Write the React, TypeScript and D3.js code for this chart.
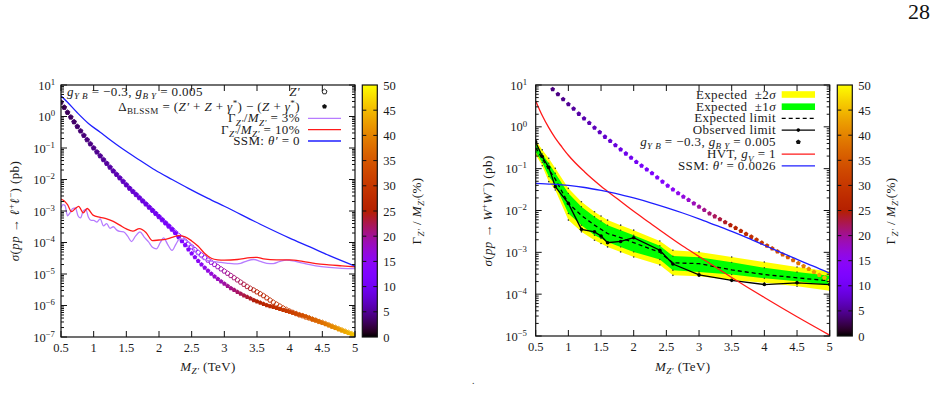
import React from "react";
import * as d3 from "d3";

const SERIF = "'Liberation Serif','Times New Roman',serif";
const TXT = "#1a1a1a";

// ---------- ticks ----------
const massTickValues = [0.5, 1, 1.5, 2, 2.5, 3, 3.5, 4, 4.5, 5];
const massTickLabels = ["0.5", "1", "1.5", "2", "2.5", "3", "3.5", "4", "4.5", "5"];
const leftDecadeExps = [1, 0, -1, -2, -3, -4, -5, -6, -7];
const rightDecadeExps = [1, 0, -1, -2, -3, -4, -5];
const widthTickValues = [0, 5, 10, 15, 20, 25, 30, 35, 40, 45, 50];

// ---------- left panel: pp -> l+l- (values are log10 of sigma in pb) ----------
const leftMass = [
  0.5, 0.55, 0.6, 0.65, 0.7, 0.75, 0.8, 0.85, 0.9, 0.95,
  1.0, 1.05, 1.1, 1.15, 1.2, 1.25, 1.3, 1.35, 1.4, 1.45,
  1.5, 1.55, 1.6, 1.65, 1.7, 1.75, 1.8, 1.85, 1.9, 1.95,
  2.0, 2.05, 2.1, 2.15, 2.2, 2.25, 2.3, 2.35, 2.4, 2.45,
  2.5, 2.55, 2.6, 2.65, 2.7, 2.75, 2.8, 2.85, 2.9, 2.95,
  3.0, 3.05, 3.1, 3.15, 3.2, 3.25, 3.3, 3.35, 3.4, 3.45,
  3.5, 3.55, 3.6, 3.65, 3.7, 3.75, 3.8, 3.85, 3.9, 3.95,
  4.0, 4.05, 4.1, 4.15, 4.2, 4.25, 4.3, 4.35, 4.4, 4.45,
  4.5, 4.55, 4.6, 4.65, 4.7, 4.75, 4.8, 4.85, 4.9, 4.95,
  5.0,
];
const zpLog10 = [
  0.45, 0.29, 0.13, -0.02, -0.17, -0.32, -0.46, -0.6, -0.74, -0.87,
  -1.0, -1.13, -1.25, -1.37, -1.49, -1.61, -1.73, -1.84, -1.95, -2.06,
  -2.17, -2.28, -2.38, -2.48, -2.58, -2.68, -2.78, -2.88, -2.98, -3.08,
  -3.18, -3.28, -3.38, -3.48, -3.58, -3.68, -3.78, -3.87, -3.96, -4.05,
  -4.14, -4.23, -4.32, -4.4, -4.48, -4.56, -4.63, -4.7, -4.77, -4.84,
  -4.91, -4.98, -5.05, -5.12, -5.19, -5.26, -5.33, -5.4, -5.46, -5.51,
  -5.57, -5.63, -5.69, -5.76, -5.83, -5.9, -5.96, -6.02, -6.08, -6.13,
  -6.18, -6.22, -6.26, -6.3, -6.33, -6.37, -6.4, -6.44, -6.47, -6.51,
  -6.54, -6.58, -6.62, -6.66, -6.7, -6.74, -6.78, -6.82, -6.86, -6.9,
  -6.94,
];
const deltaLog10 = [
  0.45, 0.29, 0.13, -0.02, -0.17, -0.32, -0.46, -0.6, -0.74, -0.87,
  -1.0, -1.13, -1.25, -1.37, -1.49, -1.61, -1.73, -1.84, -1.95, -2.06,
  -2.17, -2.28, -2.38, -2.48, -2.58, -2.68, -2.78, -2.88, -2.98, -3.08,
  -3.18, -3.28, -3.38, -3.48, -3.58, -3.7, -3.83, -3.96, -4.09, -4.22,
  -4.35, -4.47, -4.59, -4.7, -4.8, -4.9, -4.99, -5.08, -5.16, -5.24,
  -5.31, -5.38, -5.45, -5.51, -5.57, -5.63, -5.68, -5.73, -5.78, -5.83,
  -5.87, -5.91, -5.95, -5.99, -6.02, -6.05, -6.08, -6.11, -6.14, -6.17,
  -6.2, -6.23, -6.26, -6.29, -6.32, -6.35, -6.39, -6.43, -6.47, -6.51,
  -6.55, -6.59, -6.63, -6.67, -6.71, -6.75, -6.79, -6.83, -6.87, -6.91,
  -6.95,
];
const leftWidthPct = [
  2.5, 2.7, 2.9, 3.1, 3.3, 3.5, 3.7, 3.9, 4.1, 4.3,
  4.5, 4.7, 4.9, 5.1, 5.3, 5.6, 5.9, 6.2, 6.5, 6.8,
  7.0, 7.3, 7.6, 7.9, 8.2, 8.5, 8.8, 9.1, 9.4, 9.7,
  10.0, 10.3, 10.6, 11.0, 11.3, 11.7, 12.0, 12.4, 12.7, 13.1,
  13.5, 14.0, 14.6, 15.1, 15.7, 16.3, 16.9, 17.6, 18.2, 18.9,
  19.5, 20.1, 20.6, 21.2, 21.7, 22.3, 22.8, 23.4, 23.9, 24.5,
  25.0, 25.6, 26.2, 26.8, 27.4, 28.0, 28.6, 29.2, 29.8, 30.4,
  31.0, 31.7, 32.4, 33.1, 33.8, 34.5, 35.2, 35.9, 36.6, 37.3,
  38.0, 38.8, 39.6, 40.4, 41.2, 42.0, 42.8, 43.6, 44.4, 45.2,
  46.0,
];
const width3Mass = [
  0.5, 0.53, 0.56, 0.6, 0.64, 0.68, 0.72, 0.76, 0.8, 0.84,
  0.88, 0.92, 0.96, 1.0, 1.05, 1.1, 1.15, 1.2, 1.25, 1.3,
  1.35, 1.4, 1.46, 1.52, 1.58, 1.64, 1.71, 1.77, 1.84, 1.9,
  1.96, 2.02, 2.07, 2.13, 2.2, 2.26, 2.32, 2.42, 2.5, 2.58,
  2.66, 2.73, 2.85, 2.95, 3.05, 3.15, 3.25, 3.35, 3.45, 3.55,
  3.65, 3.75, 3.85, 3.95, 4.05, 4.15, 4.25, 4.4, 4.6, 4.8, 5.0,
];
const width3Log10 = [
  -2.9, -2.8, -2.82, -3.15, -3.05, -2.92, -2.9, -3.15, -3.22, -3.0,
  -2.95, -3.2, -3.3, -3.3, -3.35, -3.25, -3.47, -3.4, -3.55, -3.5,
  -3.6, -3.65, -3.66, -3.8, -3.97, -3.8, -3.66, -3.82, -3.98, -4.15,
  -4.2, -4.0, -3.85, -4.05, -4.25, -4.05, -3.88, -3.93, -4.1, -4.35,
  -4.5, -4.56, -4.61, -4.63, -4.66, -4.68, -4.66, -4.58, -4.54, -4.6,
  -4.66, -4.67, -4.6, -4.56, -4.58, -4.63, -4.68, -4.74, -4.79, -4.82, -4.83,
];
const width10Mass = [
  0.5, 0.55, 0.6, 0.66, 0.72, 0.77, 0.84, 0.9, 0.99,
  1.1, 1.2, 1.3, 1.4, 1.5, 1.6, 1.7, 1.8, 1.9,
  2.0, 2.1, 2.2, 2.3, 2.4, 2.5, 2.6, 2.7, 2.8, 2.9,
  3.0, 3.2, 3.4, 3.5, 3.6, 3.8, 4.0, 4.2, 4.4, 4.6, 4.8, 5.0,
];
const width10Log10 = [
  -2.62, -2.68, -2.8, -3.02, -2.92, -2.85, -3.06, -2.92, -3.13,
  -3.2, -3.25, -3.33, -3.45, -3.57, -3.64, -3.56, -3.68, -3.94,
  -3.92, -3.9, -3.84, -3.78, -3.82, -3.95, -4.12, -4.35, -4.5, -4.55,
  -4.56, -4.54, -4.48, -4.47, -4.52, -4.55, -4.55, -4.6, -4.67, -4.71, -4.74, -4.77,
];
const ssmLeftMass = [0.5, 0.6, 0.75, 0.92, 1.1, 1.25, 1.43, 1.7, 1.94, 2.2, 2.45, 2.75, 3.0, 3.55, 4.0, 4.31, 4.6, 5.0];
const ssmLeftLog10 = [0.66, 0.45, 0.12, -0.22, -0.5, -0.74, -1.01, -1.38, -1.7, -2.0, -2.28, -2.6, -2.85, -3.42, -3.86, -4.14, -4.41, -4.75];

// ---------- right panel: pp -> W+W- ----------
const bandMass = [0.5, 0.6, 0.7, 0.8, 1.0, 1.2, 1.4, 1.5, 1.6, 1.8, 2.0, 2.4, 2.6, 3.0, 3.5, 4.0, 4.5, 5.0];
const yellowLoLog10 = [-0.67, -0.93, -1.31, -1.51, -2.23, -2.51, -2.71, -2.79, -2.87, -2.99, -3.11, -3.3, -3.55, -3.57, -3.66, -3.73, -3.81, -3.92];
const greenLoLog10 = [-0.6, -0.85, -1.19, -1.39, -2.07, -2.35, -2.59, -2.67, -2.75, -2.87, -2.99, -3.17, -3.43, -3.47, -3.53, -3.62, -3.69, -3.78];
const expectedLog10 = [-0.5, -0.76, -1.02, -1.25, -1.83, -2.12, -2.35, -2.45, -2.55, -2.65, -2.77, -3.0, -3.25, -3.27, -3.42, -3.53, -3.61, -3.68];
const greenHiLog10 = [-0.4, -0.65, -0.87, -1.11, -1.59, -1.91, -2.15, -2.25, -2.35, -2.47, -2.59, -2.84, -3.09, -3.12, -3.24, -3.37, -3.47, -3.56];
const yellowHiLog10 = [-0.32, -0.55, -0.75, -0.99, -1.47, -1.79, -2.03, -2.13, -2.23, -2.35, -2.47, -2.73, -2.95, -2.99, -3.11, -3.23, -3.35, -3.46];
const observedLog10 = [-0.36, -0.71, -0.97, -1.43, -1.83, -2.45, -2.51, -2.61, -2.77, -2.74, -2.65, -2.95, -3.28, -3.54, -3.67, -3.77, -3.73, -3.77];

const rightDotMass = [
  0.76, 0.84, 0.92, 1.0, 1.08, 1.16, 1.24, 1.32, 1.4, 1.48,
  1.56, 1.64, 1.72, 1.8, 1.88, 1.96, 2.04, 2.12, 2.2, 2.28,
  2.36, 2.44, 2.52, 2.6, 2.68, 2.76, 2.84, 2.92, 3.0, 3.08,
  3.16, 3.24, 3.32, 3.4, 3.48, 3.56, 3.64, 3.72, 3.8, 3.88,
  3.96, 4.04, 4.12, 4.2, 4.28, 4.36, 4.44, 4.52, 4.6, 4.68,
  4.76, 4.84, 4.92, 5.0,
];
const rightDotLog10 = [
  0.9, 0.78, 0.66, 0.54, 0.43, 0.31, 0.2, 0.09, -0.02, -0.13,
  -0.24, -0.34, -0.44, -0.54, -0.64, -0.74, -0.84, -0.93, -1.02, -1.11,
  -1.21, -1.31, -1.41, -1.5, -1.59, -1.67, -1.75, -1.83, -1.91, -1.99,
  -2.07, -2.14, -2.21, -2.28, -2.35, -2.42, -2.49, -2.56, -2.63, -2.7,
  -2.77, -2.84, -2.91, -2.98, -3.05, -3.12, -3.19, -3.26, -3.33, -3.4,
  -3.47, -3.54, -3.61, -3.68,
];
const rightWidthPct = [
  4.2, 4.4, 4.7, 5.0, 5.3, 5.6, 6.0, 6.3, 6.6, 6.9,
  7.4, 7.8, 8.3, 8.8, 9.3, 9.8, 10.2, 10.8, 11.3, 11.9,
  12.4, 13.0, 13.7, 14.6, 15.6, 16.5, 17.5, 18.5, 19.5, 20.4,
  21.3, 22.1, 23.0, 23.9, 24.8, 25.7, 26.7, 27.6, 28.6, 29.6,
  30.5, 31.6, 32.7, 33.8, 34.9, 36.0, 37.2, 38.3, 39.6, 40.9,
  42.2, 43.4, 44.7, 46.0,
];
const hvtMass = [0.5, 0.6, 0.7, 0.8, 0.9, 1.0, 1.25, 1.5, 1.75, 2.0, 2.25, 2.5, 2.75, 3.0, 3.5, 4.0, 4.5, 5.0];
const hvtLog10 = [0.62, 0.27, -0.02, -0.27, -0.48, -0.68, -1.08, -1.42, -1.72, -2.02, -2.3, -2.58, -2.85, -3.1, -3.6, -4.08, -4.54, -4.98];
const ssmRightMass = [0.5, 0.75, 1.0, 1.25, 1.5, 1.75, 2.0, 2.25, 2.5, 2.75, 3.0, 3.25, 3.5, 3.75, 4.0, 4.25, 4.5, 4.75, 5.0];
const ssmRightLog10 = [-1.35, -1.37, -1.4, -1.45, -1.52, -1.6, -1.7, -1.81, -1.93, -2.06, -2.2, -2.35, -2.5, -2.66, -2.83, -3.0, -3.17, -3.33, -3.5];

// ---------- helpers ----------
const pb = (v: number) => Math.pow(10, v);
const pairs = (ms: number[], ls: number[]): [number, number][] => ms.map((m, i) => [m, pb(ls[i])]);

function palette(pct: number): string {
  const t = Math.max(0, Math.min(1, pct / 50));
  const r = Math.sqrt(t);
  const g = t * t * t;
  const b = Math.max(0, Math.sin(2 * Math.PI * t));
  return d3.rgb(r * 255, g * 255, b * 255).formatHex();
}

function pentagon(r: number): string {
  const pts = d3.range(5).map((i) => {
    const a = -Math.PI / 2 + (i * 2 * Math.PI) / 5;
    return [r * Math.cos(a), r * Math.sin(a)];
  });
  return "M" + pts.map((p) => p[0].toFixed(2) + "," + p[1].toFixed(2)).join("L") + "Z";
}

type Seg = { t: string; it?: boolean; sub?: boolean; sup?: boolean };
function segs(list: Seg[], base: number) {
  let cur = 0;
  return list.map((s, i) => {
    const target = s.sub ? base * 0.26 : s.sup ? -base * 0.38 : 0;
    const dy = target - cur;
    cur = target;
    return (
      <tspan
        key={i}
        dy={dy !== 0 ? dy : undefined}
        fontStyle={s.it ? "italic" : "normal"}
        fontSize={s.sub || s.sup ? base * 0.7 : base}
      >
        {s.t}
      </tspan>
    );
  });
}

const FS = 12.5;
const TFS = 13;

function Label(props: { x: number; y: number; anchor?: string; list: Seg[]; size?: number; rotate?: boolean; ls?: number }) {
  const size = props.size || TFS;
  const tr = props.rotate ? `translate(${props.x},${props.y}) rotate(-90)` : `translate(${props.x},${props.y})`;
  return (
    <text
      transform={tr}
      textAnchor={props.anchor || "start"}
      fontFamily={SERIF}
      fontSize={size}
      fill={TXT}
      letterSpacing={props.ls !== undefined ? props.ls : 0.4}
      style={{ whiteSpace: "pre" }}
    >
      {segs(props.list, size)}
    </text>
  );
}

const gLabel: Seg[] = [
  { t: "g", it: true }, { t: "Y B", it: true, sub: true }, { t: " = −0.3, " },
  { t: "g", it: true }, { t: "B Y", it: true, sub: true }, { t: " = 0.005" },
];
const xTitle: Seg[] = [{ t: "M", it: true }, { t: "Z′", it: true, sub: true }, { t: " (TeV)" }];
const cbTitle: Seg[] = [
  { t: "Γ" }, { t: "Z′", it: true, sub: true }, { t: " / " }, { t: "M", it: true }, { t: "Z′", it: true, sub: true }, { t: "(%)" },
];

type AxesProps = {
  x: d3.ScaleLinear<number, number>;
  y: d3.ScaleLogarithmic<number, number>;
  exps: number[];
  labelX: number;
};

function Axes({ x, y, exps, labelX }: AxesProps) {
  const [x0, x1] = x.range();
  const [y1, y0] = y.range();
  const els: React.ReactNode[] = [];
  massTickValues.forEach((m, i) => {
    const px = x(m);
    els.push(<line key={"xb" + i} x1={px} x2={px} y1={y1} y2={y1 - 6} />);
    els.push(<line key={"xt" + i} x1={px} x2={px} y1={y0} y2={y0 + 6} />);
  });
  const minE = Math.min(...exps);
  exps.forEach((e) => {
    const py = y(pb(e));
    els.push(<line key={"yl" + e} x1={x0} x2={x0 + 6} y1={py} y2={py} />);
    els.push(<line key={"yr" + e} x1={x1} x2={x1 - 6} y1={py} y2={py} />);
    if (e > minE) {
      for (let k = 2; k <= 9; k++) {
        const pm = y(k * pb(e - 1));
        els.push(<line key={"ml" + e + k} x1={x0} x2={x0 + 3} y1={pm} y2={pm} />);
        els.push(<line key={"mr" + e + k} x1={x1} x2={x1 - 3} y1={pm} y2={pm} />);
      }
    }
  });
  return (
    <g>
      <g stroke="#111" strokeWidth={1}>{els}</g>
      <rect x={x0} y={y0} width={x1 - x0} height={y1 - y0} fill="none" stroke="#111" strokeWidth={1.2} />
      {massTickValues.map((m, i) => (
        <text key={"xl" + i} x={x(m)} y={y1 + 15} textAnchor="middle" fontFamily={SERIF} fontSize={FS} fill={TXT}>
          {massTickLabels[i]}
        </text>
      ))}
      {exps.map((e) => (
        <Label
          key={"yt" + e}
          x={labelX}
          y={y(pb(e)) + 4.5}
          anchor="end"
          size={FS}
          ls={0}
          list={[{ t: "10" }, { t: e < 0 ? "−" + Math.abs(e) : String(e), sup: true }]}
        />
      ))}
    </g>
  );
}

function ColorBar({ cx0, cx1, scale, gradId }: { cx0: number; cx1: number; scale: d3.ScaleLinear<number, number>; gradId: string }) {
  const [yb, yt] = scale.range();
  return (
    <g>
      <rect x={cx0} y={yt} width={cx1 - cx0} height={yb - yt} fill={`url(#${gradId})`} stroke="#111" strokeWidth={1.2} />
      {widthTickValues.map((v) => (
        <g key={v} stroke="#111" strokeWidth={1}>
          {v > 0 && v < 50 ? <line x1={cx0} x2={cx0 + 4} y1={scale(v)} y2={scale(v)} /> : null}
          {v > 0 && v < 50 ? <line x1={cx1 - 4} x2={cx1} y1={scale(v)} y2={scale(v)} /> : null}
        </g>
      ))}
      {widthTickValues.map((v) => (
        <text key={"l" + v} x={cx1 + 6} y={scale(v) + 4.5} fontFamily={SERIF} fontSize={FS} fill={TXT}>
          {v}
        </text>
      ))}
    </g>
  );
}

export default function App() {
  // scales
  const xL = d3.scaleLinear().domain([0.5, 5]).range([61, 355]);
  const yL = d3.scaleLog().domain([1e-7, 10]).range([337, 85]);
  const xR = d3.scaleLinear().domain([0.5, 5]).range([535.7, 829.7]);
  const yR = d3.scaleLog().domain([1e-5, 10]).range([336, 85]);
  const cL = d3.scaleLinear().domain([0, 50]).range([337, 85]);
  const cR = d3.scaleLinear().domain([0, 50]).range([336, 85]);

  const lineL = d3.line<[number, number]>().x((d) => xL(d[0])).y((d) => yL(d[1])).curve(d3.curveMonotoneX);
  const lineR = d3.line<[number, number]>().x((d) => xR(d[0])).y((d) => yR(d[1])).curve(d3.curveMonotoneX);
  const lineRlin = d3.line<[number, number]>().x((d) => xR(d[0])).y((d) => yR(d[1]));

  const bandRows = bandMass.map((m, i) => ({
    m,
    yl: pb(yellowLoLog10[i]),
    gl: pb(greenLoLog10[i]),
    gh: pb(greenHiLog10[i]),
    yh: pb(yellowHiLog10[i]),
  }));
  type BR = (typeof bandRows)[number];
  const yellowArea = d3.area<BR>().x((d) => xR(d.m)).y0((d) => yR(d.yl)).y1((d) => yR(d.yh));
  const greenArea = d3.area<BR>().x((d) => xR(d.m)).y0((d) => yR(d.gl)).y1((d) => yR(d.gh));

  const pent = pentagon(2.5);
  const pentSmall = pentagon(2.6);

  const gradStops = d3.range(0, 51, 1);

  // legend geometry
  const legL = { tx: 300, s0: 308, s1: 341, mk: 324.5 };
  const legLRows = [91.7, 106.5, 118.3, 129.6, 141];
  const legR = { tx: 776, s0: 781.7, s1: 815, mk: 798.3 };
  const legRRows = [94.5, 106.7, 118.4, 130.1, 142, 154.2, 165.9];

  return (
    <svg width={936} height={410} style={{ position: "absolute", left: 0, top: 0, background: "#fff" }}>
      <defs>
        <linearGradient id="palL" x1="0" y1="1" x2="0" y2="0">
          {gradStops.map((v) => (
            <stop key={v} offset={v / 50} stopColor={palette(v)} />
          ))}
        </linearGradient>
        <clipPath id="clipL">
          <rect x={61} y={85} width={294} height={252} />
        </clipPath>
        <clipPath id="clipR">
          <rect x={535.7} y={85} width={294} height={251} />
        </clipPath>
      </defs>
      <rect x={0} y={0} width={936} height={410} fill="#fff" />

      {/* page number */}
      <text x={930} y={19} textAnchor="end" fontFamily={SERIF} fontSize={22} fill="#111">28</text>
      <text x={472} y={384} fontFamily={SERIF} fontSize={10} fill="#333">.</text>

      {/* ================= LEFT PANEL ================= */}
      <g clipPath="url(#clipL)">
        {leftMass.map((m, i) => (
          <path key={"zo" + i} d={pent} transform={`translate(${xL(m)},${yL(pb(zpLog10[i]))})`} fill="none" stroke={palette(leftWidthPct[i])} strokeWidth={0.9} />
        ))}
        {leftMass.map((m, i) => (
          <path key={"df" + i} d={pent} transform={`translate(${xL(m)},${yL(pb(deltaLog10[i]))})`} fill={palette(leftWidthPct[i])} />
        ))}
        <path d={lineL(pairs(width3Mass, width3Log10)) || ""} fill="none" stroke="#b77cff" strokeWidth={1.3} />
        <path d={lineL(pairs(width10Mass, width10Log10)) || ""} fill="none" stroke="#ff1a1a" strokeWidth={1.3} />
        <path d={lineL(pairs(ssmLeftMass, ssmLeftLog10)) || ""} fill="none" stroke="#1f1fff" strokeWidth={1.3} />
      </g>
      <Axes x={xL} y={yL} exps={leftDecadeExps} labelX={55} />

      {/* left legend */}
      <Label x={67} y={legLRows[0] + 4} list={gLabel} />
      <Label x={legL.tx} y={legLRows[0] + 4} anchor="end" list={[{ t: "Z′", it: true }]} />
      <path d={pentSmall} transform={`translate(${legL.mk},${legLRows[0]})`} fill="none" stroke="#111" strokeWidth={0.9} />
      <Label
        x={legL.tx}
        y={legLRows[1] + 4}
        anchor="end"
        list={[
          { t: "Δ" }, { t: "BLSSM", sub: true }, { t: " = (" }, { t: "Z′", it: true }, { t: " + " }, { t: "Z", it: true },
          { t: " + " }, { t: "γ", it: true }, { t: "*", sup: true }, { t: ") − (" }, { t: "Z", it: true }, { t: " + " },
          { t: "γ", it: true }, { t: "*", sup: true }, { t: ")" },
        ]}
      />
      <path d={pentSmall} transform={`translate(${legL.mk},${legLRows[1]})`} fill="#111" />
      <Label
        x={legL.tx}
        y={legLRows[2] + 4}
        anchor="end"
        list={[{ t: "Γ" }, { t: "Z′", it: true, sub: true }, { t: "/" }, { t: "M", it: true }, { t: "Z′", it: true, sub: true }, { t: " = 3%" }]}
      />
      <line x1={legL.s0} x2={legL.s1} y1={legLRows[2]} y2={legLRows[2]} stroke="#b77cff" strokeWidth={1.3} />
      <Label
        x={legL.tx}
        y={legLRows[3] + 4}
        anchor="end"
        list={[{ t: "Γ" }, { t: "Z′", it: true, sub: true }, { t: "/" }, { t: "M", it: true }, { t: "Z′", it: true, sub: true }, { t: " = 10%" }]}
      />
      <line x1={legL.s0} x2={legL.s1} y1={legLRows[3]} y2={legLRows[3]} stroke="#ff1a1a" strokeWidth={1.3} />
      <Label x={legL.tx} y={legLRows[4] + 4} anchor="end" list={[{ t: "SSM: " }, { t: "θ′", it: true }, { t: " = 0" }]} />
      <line x1={legL.s0} x2={legL.s1} y1={legLRows[4]} y2={legLRows[4]} stroke="#1f1fff" strokeWidth={1.3} />

      {/* left titles */}
      <Label x={208} y={371} anchor="middle" list={xTitle} />
      <Label
        x={19}
        y={211}
        anchor="middle"
        rotate
        list={[
          { t: "σ", it: true }, { t: "(" }, { t: "pp", it: true }, { t: " → " }, { t: "ℓ", it: true }, { t: "+", sup: true },
          { t: "ℓ", it: true }, { t: "−", sup: true }, { t: ") (pb)" },
        ]}
      />
      <ColorBar cx0={362.3} cx1={377.3} scale={cL} gradId="palL" />
      <Label x={421} y={211} anchor="middle" rotate list={cbTitle} />

      {/* ================= RIGHT PANEL ================= */}
      <g clipPath="url(#clipR)">
        <path d={yellowArea(bandRows) || ""} fill="#ffff00" />
        <path d={greenArea(bandRows) || ""} fill="#00ff00" />
        {bandRows.map((r, i) => (
          <g key={"bd" + i} fill="#333">
            <circle cx={xR(r.m)} cy={yR(r.yl)} r={0.8} />
            <circle cx={xR(r.m)} cy={yR(r.yh)} r={0.8} />
            <circle cx={xR(r.m)} cy={yR(r.gl)} r={0.7} />
            <circle cx={xR(r.m)} cy={yR(r.gh)} r={0.7} />
          </g>
        ))}
        <path d={lineRlin(pairs(bandMass, expectedLog10)) || ""} fill="none" stroke="#000" strokeWidth={1.3} strokeDasharray="4,3" />
        <path d={lineRlin(pairs(bandMass, observedLog10)) || ""} fill="none" stroke="#000" strokeWidth={1.3} />
        {bandMass.map((m, i) => (
          <circle key={"ob" + i} cx={xR(m)} cy={yR(pb(observedLog10[i]))} r={1.8} fill="#000" />
        ))}
        {rightDotMass.map((m, i) => (
          <path key={"rd" + i} d={pent} transform={`translate(${xR(m)},${yR(pb(rightDotLog10[i]))})`} fill={palette(rightWidthPct[i])} />
        ))}
        <path d={lineR(pairs(hvtMass, hvtLog10)) || ""} fill="none" stroke="#ff1a1a" strokeWidth={1.3} />
        <path d={lineR(pairs(ssmRightMass, ssmRightLog10)) || ""} fill="none" stroke="#1f1fff" strokeWidth={1.3} />
      </g>
      <Axes x={xR} y={yR} exps={rightDecadeExps} labelX={527} />

      {/* right legend */}
      <Label x={legR.tx} y={legRRows[0] + 4} anchor="end" list={[{ t: "Expected  ±2" }, { t: "σ", it: true }]} />
      <rect x={legR.s0} y={legRRows[0] - 3.3} width={legR.s1 - legR.s0} height={6.6} fill="#ffff00" />
      <Label x={legR.tx} y={legRRows[1] + 4} anchor="end" list={[{ t: "Expected  ±1" }, { t: "σ", it: true }]} />
      <rect x={legR.s0} y={legRRows[1] - 3.3} width={legR.s1 - legR.s0} height={6.6} fill="#00ff00" />
      <Label x={legR.tx} y={legRRows[2] + 4} anchor="end" list={[{ t: "Expected limit" }]} />
      <line x1={legR.s0} x2={legR.s1} y1={legRRows[2]} y2={legRRows[2]} stroke="#000" strokeWidth={1.3} strokeDasharray="4,3" />
      <Label x={legR.tx} y={legRRows[3] + 4} anchor="end" list={[{ t: "Observed limit" }]} />
      <line x1={legR.s0} x2={legR.s1} y1={legRRows[3]} y2={legRRows[3]} stroke="#000" strokeWidth={1.3} />
      <circle cx={legR.mk} cy={legRRows[3]} r={1.8} fill="#000" />
      <Label x={legR.tx} y={legRRows[4] + 4} anchor="end" list={gLabel} />
      <path d={pentSmall} transform={`translate(${legR.mk},${legRRows[4]})`} fill="#111" />
      <Label x={legR.tx} y={legRRows[5] + 4} anchor="end" list={[{ t: "HVT, " }, { t: "g", it: true }, { t: "V", it: true, sub: true }, { t: " = 1" }]} />
      <line x1={legR.s0} x2={legR.s1} y1={legRRows[5]} y2={legRRows[5]} stroke="#ff1a1a" strokeWidth={1.3} />
      <Label x={legR.tx} y={legRRows[6] + 4} anchor="end" list={[{ t: "SSM: " }, { t: "θ′", it: true }, { t: " = 0.0026" }]} />
      <line x1={legR.s0} x2={legR.s1} y1={legRRows[6]} y2={legRRows[6]} stroke="#1f1fff" strokeWidth={1.3} />

      {/* right titles */}
      <Label x={682.7} y={371} anchor="middle" list={xTitle} />
      <Label
        x={492}
        y={211}
        anchor="middle"
        rotate
        list={[
          { t: "σ", it: true }, { t: "(" }, { t: "pp", it: true }, { t: " → " }, { t: "W", it: true }, { t: "+", sup: true },
          { t: "W", it: true }, { t: "−", sup: true }, { t: ") (pb)" },
        ]}
      />
      <ColorBar cx0={837.3} cx1={852.3} scale={cR} gradId="palL" />
      <Label x={895} y={211} anchor="middle" rotate list={cbTitle} />
    </svg>
  );
}
